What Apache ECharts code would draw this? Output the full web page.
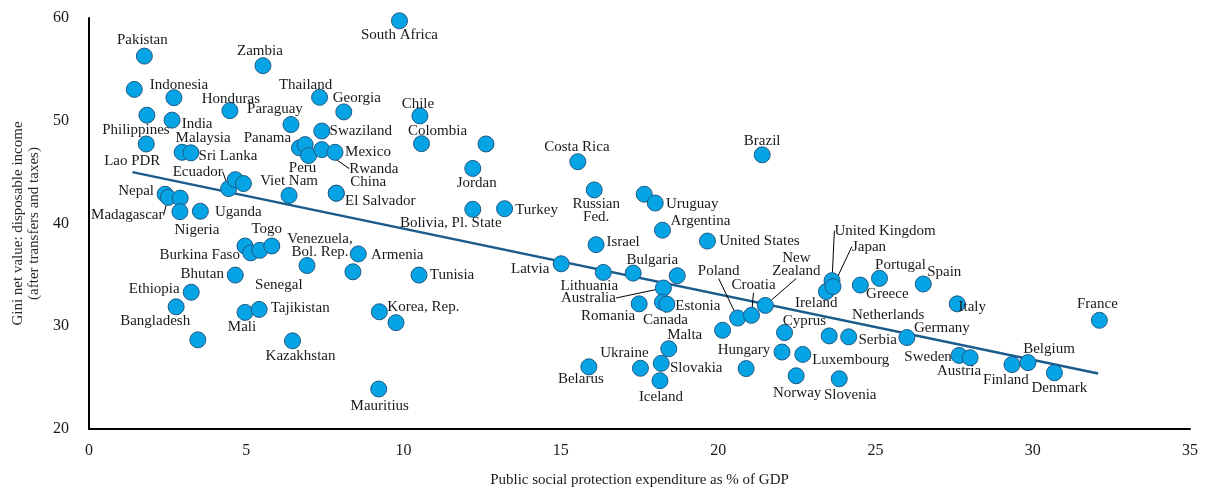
<!DOCTYPE html>
<html>
<head>
<meta charset="utf-8">
<title>Social protection expenditure and inequality</title>
<script src="https://cdn.jsdelivr.net/npm/echarts@6/dist/echarts.min.js"></script>
<style>
  html, body { margin: 0; padding: 0; background: #ffffff; }
  #chart { width: 1205px; height: 493px; }
</style>
</head>
<body>
<div id="chart"></div>
<script>
// Countries (empty string = point drawn without a label)
const countries = [
  'South Africa', 'Pakistan', 'Zambia', '', 'Indonesia', 'Honduras', 'Thailand', 'Georgia', 'Chile',
  'Philippines', 'India', 'Paraguay', 'Swaziland', 'Colombia', 'Lao PDR', 'Malaysia', 'Sri Lanka',
  'Panama', '', 'Peru', 'Rwanda', 'Mexico', 'Ecuador', '', '', 'Viet Nam', 'China', 'El Salvador',
  'Nepal', 'Madagascar', '', 'Nigeria', 'Uganda', '', 'Burkina Faso', 'Senegal', 'Togo',
  'Venezuela,\nBol. Rep.', 'Armenia', '', 'Tunisia', 'Bhutan', 'Ethiopia', 'Bangladesh', 'Mali',
  'Tajikistan', 'Korea, Rep.', '', '', 'Kazakhstan', 'Mauritius', 'Jordan', 'Costa Rica', 'Brazil',
  'Russian\nFed.', '', 'Uruguay', 'Bolivia, Pl. State', 'Turkey', '', 'Argentina', 'Israel',
  'United States', 'Latvia', 'Lithuania', 'Bulgaria', '', 'Australia', 'Romania', 'Canada', 'Estonia',
  'Poland', 'Croatia', 'New\nZealand', '', 'Malta', 'Slovakia', 'Ukraine', 'Belarus', 'Iceland', '',
  'Hungary', 'Cyprus', 'Luxembourg', 'Norway', 'Slovenia', 'Ireland', 'Greece', 'United Kingdom',
  'Japan', 'Portugal', 'Spain', 'Netherlands', 'Serbia', 'Germany', 'Italy', 'France', 'Sweden',
  'Austria', 'Finland', 'Belgium', 'Denmark'
];

// Public social protection expenditure, % of GDP
const spending = [
  9.87, 1.76, 5.53, 1.44, 2.70, 4.48, 7.33, 8.10, 10.52,
  1.84, 2.64, 6.42, 7.40, 10.57, 1.82, 2.96, 3.24,
  6.69, 6.87, 6.98, 7.40, 7.82, 4.44, 4.65, 4.91, 6.36, 7.86, 7.86,
  2.42, 2.52, 2.90, 2.89, 3.54, 4.96, 5.14, 5.43, 5.81,
  6.93, 8.56, 8.39, 10.49, 4.65, 3.25, 2.77, 4.96,
  5.41, 9.23, 9.76, 3.46, 6.47, 9.21, 12.20, 15.54, 21.40,
  16.06, 17.65, 18.00, 12.20, 13.21, 12.62, 18.23, 16.12,
  19.66, 15.01, 16.35, 17.30, 18.70, 18.26, 17.49, 18.23, 18.37,
  20.62, 21.06, 21.50, 20.14, 18.43, 18.19, 17.53, 15.89, 18.15, 20.89,
  22.03, 22.11, 22.69, 22.48, 23.85, 23.44, 24.52, 23.62,
  23.65, 25.13, 26.52, 23.53, 24.15, 26.00, 27.60, 32.12, 27.66,
  28.01, 29.34, 29.85, 30.69
];

// Gini net value: disposable income (after transfers and taxes)
const gini = [
  59.73, 56.29, 55.36, 53.05, 52.24, 50.98, 52.28, 50.86, 50.47,
  50.54, 50.06, 49.63, 49.00, 47.77, 47.74, 46.93, 46.88,
  47.36, 47.68, 46.62, 47.19, 46.93, 43.40, 44.27, 43.89, 42.73, 42.95, 42.95,
  42.85, 42.54, 42.47, 41.15, 41.19, 37.81, 37.14, 37.39, 37.81,
  35.91, 37.04, 35.30, 34.98, 34.98, 33.31, 31.89, 31.35,
  31.64, 31.41, 30.35, 28.68, 28.58, 23.89, 45.36, 46.01, 46.68,
  43.27, 42.85, 41.99, 41.38, 41.44, 47.74, 39.35, 37.94,
  38.29, 36.08, 35.24, 35.17, 34.92, 33.72, 32.18, 32.34, 32.15,
  30.80, 31.06, 32.03, 29.61, 27.81, 26.39, 25.91, 26.05, 24.70, 25.88,
  27.49, 29.38, 27.26, 25.18, 24.89, 33.38, 34.01, 34.44,
  33.86, 34.66, 34.11, 29.06, 28.97, 28.90, 32.18, 30.58, 27.16,
  26.94, 26.27, 26.46, 25.47
];

// Linear trend, end points
const trendSpending = [1.38, 32.08];
const trendGini = [45.0, 25.4];

// Axis ticks
const xTicks = { min: 0, max: 35, step: 5 };
const yTicks = { min: 20, max: 60, step: 10 };

// Label placement: shift (px) of each label's centre from its marker's centre
const labelShift = {
  'South Africa': [0, 14], 'Pakistan': [-2, -16], 'Zambia': [-3, -15], 'Indonesia': [5, -13],
  'Honduras': [1, -12], 'Thailand': [-14, -12], 'Georgia': [13, -14], 'Chile': [-2, -12],
  'Philippines': [-11, 15], 'India': [25, 4], 'Paraguay': [-16, -15], 'Swaziland': [39, 0],
  'Colombia': [16, -13], 'Lao PDR': [-14, 17], 'Malaysia': [21, -14], 'Sri Lanka': [37, 3],
  'Panama': [-32, -10], 'Peru': [-6, 13], 'Rwanda': [52, 19], 'Mexico': [33, 0],
  'Ecuador': [-31, -17], 'Viet Nam': [0, -14], 'China': [32, -11], 'El Salvador': [44, 8],
  'Nepal': [-29, -3], 'Madagascar': [-41, 18], 'Nigeria': [17, 18], 'Uganda': [38, 1],
  'Burkina Faso': [-51, 2], 'Senegal': [19, 35], 'Togo': [-5, -17], 'Venezuela,\nBol. Rep.': [13, -20],
  'Armenia': [39, 1], 'Tunisia': [33, 0], 'Bhutan': [-33, -1], 'Ethiopia': [-37, -3],
  'Bangladesh': [-21, 14], 'Mali': [-3, 15], 'Tajikistan': [41, -1], 'Korea, Rep.': [44, -5],
  'Kazakhstan': [8, 15], 'Mauritius': [1, 17], 'Jordan': [4, 15], 'Costa Rica': [-1, -15],
  'Brazil': [0, -14], 'Russian\nFed.': [2, 21], 'Uruguay': [37, 1], 'Bolivia, Pl. State': [-22, 14],
  'Turkey': [32, 1], 'Argentina': [38, -9], 'Israel': [27, -3], 'United States': [52, 0],
  'Latvia': [-31, 5], 'Lithuania': [-14, 14], 'Bulgaria': [19, -13], 'Australia': [-75, 10],
  'Romania': [-31, 12], 'Canada': [3, 18], 'Estonia': [31, 2], 'Poland': [-19, -47],
  'Croatia': [2, -30], 'New\nZealand': [31, -41], 'Malta': [16, -14], 'Slovakia': [35, 5],
  'Ukraine': [-16, -15], 'Belarus': [-8, 12], 'Iceland': [1, 16], 'Hungary': [-38, -2],
  'Cyprus': [20, -12], 'Luxembourg': [48, 6], 'Norway': [1, 17], 'Slovenia': [11, 16],
  'Ireland': [-10, 12], 'Greece': [27, 9], 'United Kingdom': [53, -50], 'Japan': [36, -40],
  'Portugal': [21, -13], 'Spain': [21, -12], 'Netherlands': [59, -21], 'Serbia': [29, 3],
  'Germany': [35, -9], 'Italy': [15, 3], 'France': [-2, -16], 'Sweden': [-31, 2],
  'Austria': [-11, 13], 'Finland': [-6, 15], 'Belgium': [21, -14], 'Denmark': [5, 15]
};

// Labels joined to their marker by a leader line
const withLeader = ['Rwanda', 'Ecuador', 'Madagascar', 'Australia', 'Canada', 'Poland',
  'Croatia', 'New\nZealand', 'United Kingdom', 'Japan'];

const FONT = 'Liberation Serif';
const TEXT = '#1a1a1a';

const points = countries.map((name, i) => ({
  name: name,
  value: [spending[i], gini[i]],
  label: { show: name !== '' },
  labelLine: { show: withLeader.indexOf(name) >= 0 }
}));

const chart = echarts.init(document.getElementById('chart'), null, { renderer: 'canvas' });

chart.setOption({
  animation: false,
  backgroundColor: '#ffffff',
  grid: { left: 89, right: 15, top: 18, bottom: 61, containLabel: false },
  xAxis: {
    type: 'value',
    min: xTicks.min, max: xTicks.max, interval: xTicks.step,
    name: 'Public social protection expenditure as % of GDP',
    nameLocation: 'middle', nameGap: 44,
    nameTextStyle: { fontFamily: FONT, fontSize: 15, color: TEXT },
    axisLine: { show: true, lineStyle: { color: '#000000', width: 2 } },
    axisTick: { show: false },
    splitLine: { show: false },
    axisLabel: { fontFamily: FONT, fontSize: 16, color: TEXT, margin: 14 }
  },
  yAxis: {
    type: 'value',
    min: yTicks.min, max: yTicks.max, interval: yTicks.step,
    name: 'Gini net value: disposable income\n(after transfers and taxes)',
    nameLocation: 'middle', nameGap: 42,
    nameTextStyle: { fontFamily: FONT, fontSize: 15, color: '#2a2a2a', lineHeight: 16 },
    axisLine: { show: true, lineStyle: { color: '#000000', width: 2 } },
    axisTick: { show: false },
    splitLine: { show: false },
    axisLabel: { fontFamily: FONT, fontSize: 16, color: TEXT, margin: 20 }
  },
  series: [
    {
      type: 'line',
      data: trendSpending.map((x, i) => [x, trendGini[i]]),
      symbol: 'none',
      lineStyle: { color: '#1b5c8c', width: 2.5 },
      z: 1,
      silent: true
    },
    {
      type: 'scatter',
      data: points,
      symbol: 'circle',
      symbolSize: 16,
      itemStyle: { color: '#06a4e4', borderColor: '#1f5a86', borderWidth: 1, opacity: 1 },
      z: 2,
      label: {
        position: 'inside',
        formatter: p => p.name,
        fontFamily: FONT,
        fontSize: 15,
        lineHeight: 13,
        color: TEXT,
        align: 'center',
        verticalAlign: 'middle'
      },
      labelLine: { show: false, lineStyle: { color: '#000000', width: 1 } },
      labelLayout: function (params) {
        const name = countries[params.dataIndex];
        const s = labelShift[name];
        if (!s) return {};
        return { dx: s[0], dy: s[1] };
      }
    }
  ]
});
</script>
</body>
</html>
